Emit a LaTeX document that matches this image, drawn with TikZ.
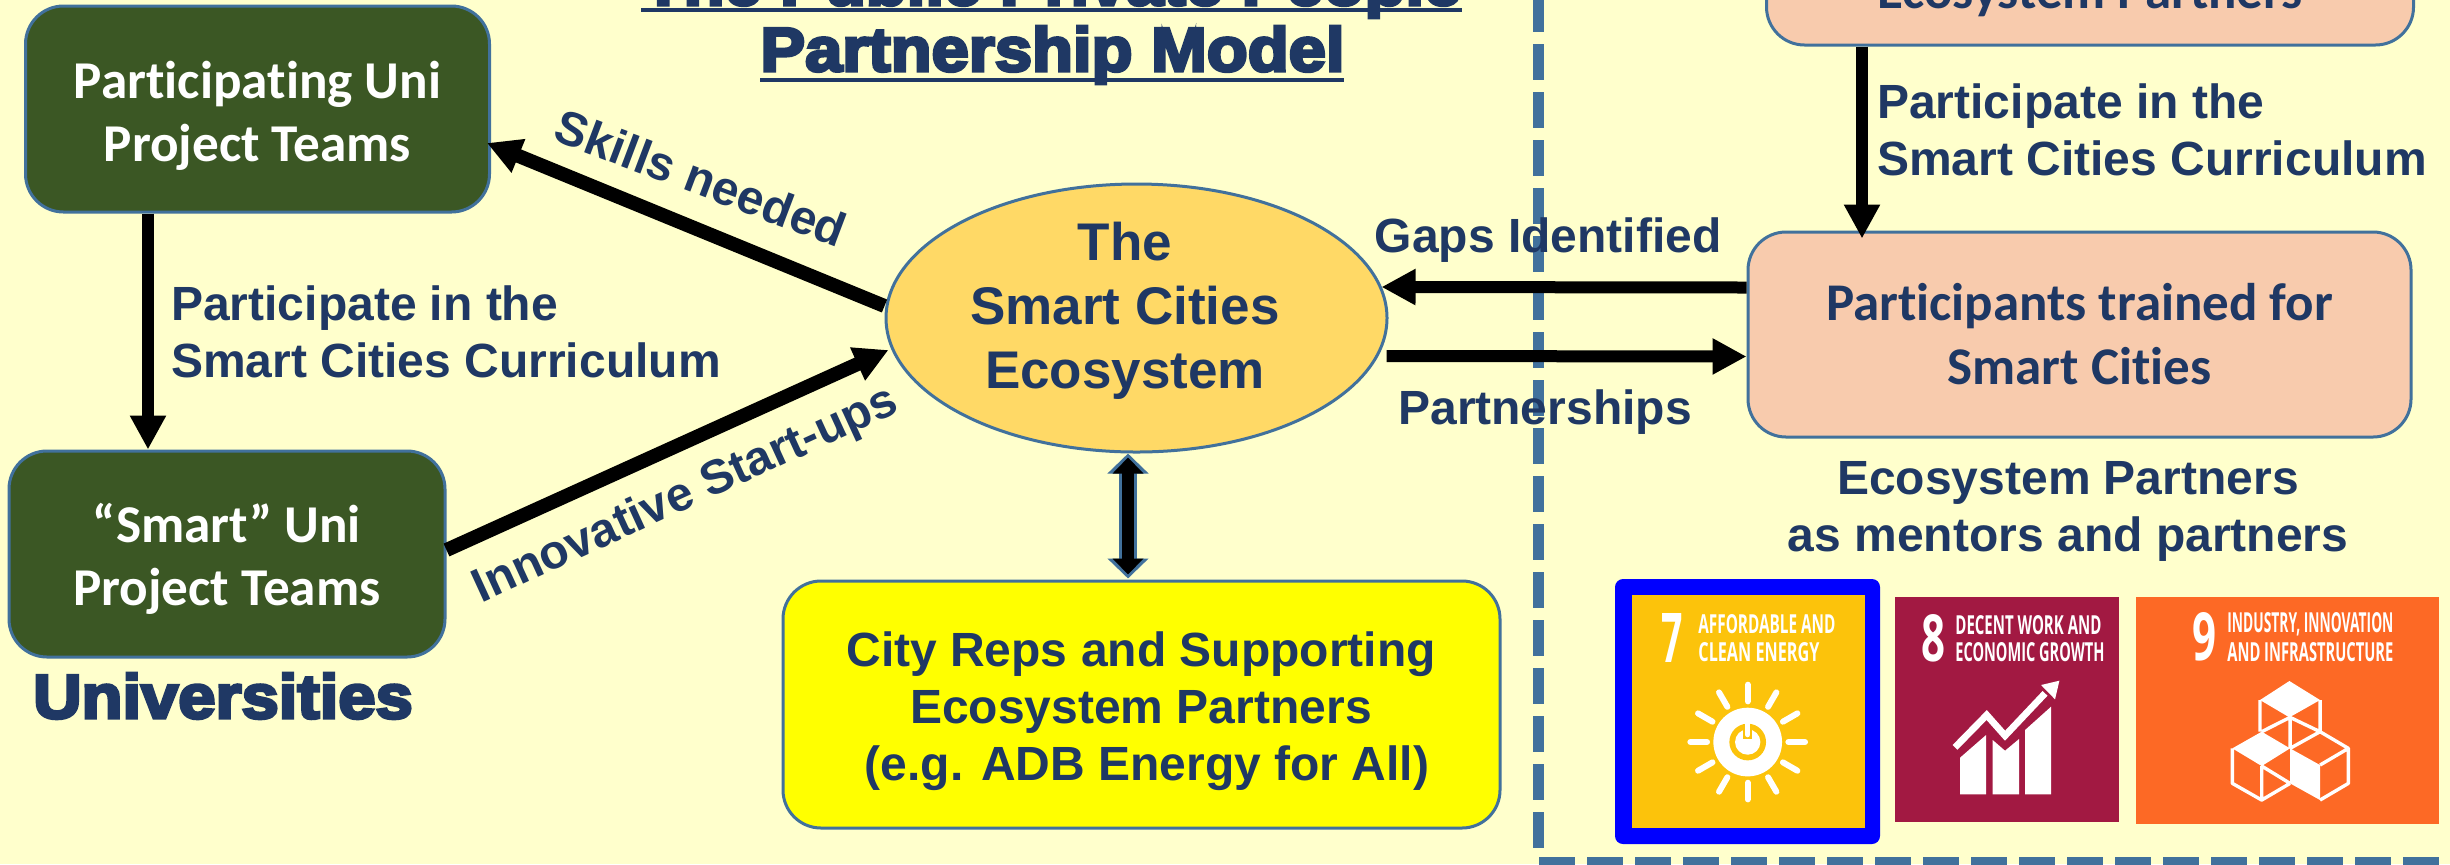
\documentclass[tikz,border=0pt]{standalone}
\usepackage{fontspec}
\usepackage{graphicx}
\usetikzlibrary{calc,arrows.meta,shapes.geometric}
\setmainfont{Liberation Sans}
\newfontfamily\carl[Ligatures=NoCommon]{Carlito}
\newfontfamily\heavy[FakeBold=5,FakeStretch=1.08]{Liberation Sans Bold}
\newfontfamily\tile{Open Sans}
\definecolor{bgc}{HTML}{FFFFCC}
\definecolor{navy}{HTML}{1F3864}
\definecolor{edgec}{HTML}{41719C}
\definecolor{greenc}{HTML}{3B5724}
\definecolor{peachc}{HTML}{F8CBAD}
\definecolor{ellc}{HTML}{FFD966}
\definecolor{yelc}{HTML}{FFFF00}
\definecolor{bluec}{HTML}{0000FF}
\definecolor{sdga}{HTML}{FCC30B}
\definecolor{sdgb}{HTML}{A21942}
\definecolor{sdgc}{HTML}{FD6925}
\tikzset{
  boxbase/.style={draw=edgec,line width=1.5pt,rounded corners=19pt,inner sep=0pt,align=center},
  greenbox/.style={boxbase,fill=greenc,text=white,font=\carl\bfseries\fontsize{26.6}{31.5}\selectfont},
  peachbox/.style={boxbase,fill=peachc,text=navy,font=\carl\bfseries\fontsize{26.5}{32}\selectfont},
  lab/.style={inner sep=0pt,text=navy,align=center,font=\bfseries\fontsize{24}{28.5}\selectfont},
  labl/.style={lab,align=left},
  arr/.style={line width=6pt,black,-{Triangle[length=17pt,width=17pt]}},
  divider/.style={line width=5.5pt,edgec,dash pattern=on 18pt off 6pt},
  ttl/.style={inner sep=0pt,text=navy,font=\heavy\fontsize{31}{31}\selectfont},
  rulec/.style={line width=1.7pt,navy},
  tiletext/.style={inner sep=0pt,anchor=west,text=white,font=\tile\bfseries},
  tilebox/.style={inner sep=0pt,draw=none},
}
\begin{document}
\begin{tikzpicture}[x=0.5pt,y=-0.5pt]
\useasboundingbox (0,0) rectangle (2450,864);
\clip (0,0) rectangle (2450,864);
\fill[bgc] (0,0) rectangle (2450,864);

% dividers
\coordinate (va) at (1538.5,-4);
\coordinate (vb) at (1538.5,848);
\coordinate (ha) at (1539,862.5);
\coordinate (hb) at (2460,862.5);
\draw[divider] (va) -- (vb);
\draw[divider] (ha) -- (hb);

% title
\node[ttl] (t1) at (1052,-11) {The Public Private People};
\node[ttl] (t2) at (1052.5,55) {Partnership Model};
\coordinate (u1a) at (641,10); \coordinate (u1b) at (1462,10);
\coordinate (u2a) at (760,80); \coordinate (u2b) at (1344,80);
\draw[rulec] (u1a) -- (u1b);
\draw[rulec] (u2a) -- (u2b);

% boxes
\node[greenbox,minimum width=232pt,minimum height=103pt] (uni) at (257.5,109) {\rule{0pt}{25pt}Participating Uni\\Project Teams};
\node[greenbox,minimum width=218pt,minimum height=103pt] (smart) at (227,554) {\rule{0pt}{24pt}“Smart” Uni\\Project Teams};
\node[ttl] (univ) at (223,696) {Universities};
\node[draw=edgec,line width=1.5pt,fill=ellc,ellipse,inner sep=0pt,minimum width=250.5pt,minimum height=134pt] (eco) at (1136.5,318) {};
\node[lab,font=\bfseries\fontsize{26.5}{32}\selectfont] (ecot) at (1125,311) {The\\Smart Cities\\Ecosystem};
\node[boxbase,fill=yelc,minimum width=358.5pt,minimum height=123.5pt] (city) at (1141.5,704.5) {};
\node[lab] (cityt) at (1141,711.5) {City Reps and Supporting\\Ecosystem Partners\\\hspace*{6pt}(e.g. ADB Energy for All)};
\node[peachbox,minimum width=323.5pt,minimum height=120pt] (top) at (2090,-75) {};
\node[text=navy,inner sep=0pt,font=\carl\bfseries\fontsize{26.5}{32}\selectfont] (topt) at (2090,-5) {Ecosystem Partners};
\node[peachbox,minimum width=331.5pt,minimum height=102.5pt] (part) at (2079.5,334.5) {Participants trained for\\Smart Cities};

% connectors
\draw[arr,line width=7pt] ($(eco.west)+(0,-12)$) -- ($(uni.east)+(-4,34)$);
\draw[arr] ($(uni.south)+(-109.5,0)$) -- ($(smart.north)+(-79,0)$);
\draw[arr,line width=7pt] ($(smart.east)+(0,-4)$) -- ($(eco.west)+(4,32)$);
\draw[arr] ($(part.west)+(0,-47)$) -- ($(eco.east)+(-7,-31)$);
\draw[arr] ($(eco.east)+(-2,38)$) -- ($(part.west)+(0,22)$);
\draw[arr] ($(top.south)+(-228,0)$) -- ($(part.north)+(-217.5,8)$);
\coordinate (da) at ($(eco.south)+(-8.5,0)$);
\coordinate (db) at ($(city.north)+(-13.5,-1)$);
\draw[edgec,line width=9pt,{Triangle[length=10pt,width=20pt]}-{Triangle[length=10pt,width=20pt]}] (da) -- (db);
\draw[black,line width=6pt,shorten <=2pt,shorten >=2pt,{Triangle[length=8pt,width=15pt]}-{Triangle[length=8pt,width=15pt]}] (da) -- (db);

% labels
\node[lab,rotate=-20.7] (skills) at (701,178) {Skills needed};
\node[lab,rotate=24.6] (innov) at (686,496) {Innovative Start-ups};
\node[labl] (pl) at (446,332) {Participate in the\\Smart Cities Curriculum};
\node[labl] (pr) at (2152,130) {Participate in the\\Smart Cities Curriculum};
\node[lab] (gaps) at (1548,240) {Gaps Identified};
\node[lab] (pships) at (1545,412) {Partnerships};
\node[lab] (ment) at (2068,511) {Ecosystem Partners\\as mentors and partners};

% SDG tiles
\node[tilebox,fill=bluec,rounded corners=4pt,minimum width=132.5pt,minimum height=132.5pt] (s0) at (1747.5,711.5) {};
\node[tilebox,fill=sdga,minimum width=116.75pt,minimum height=116.5pt] (s7) at (1748.25,711.5) {};
\node[tilebox,fill=sdgb,minimum width=112pt,minimum height=112.5pt] (s8) at (2007,709.5) {};
\node[tilebox,fill=sdgc,minimum width=151.5pt,minimum height=113.5pt] (s9) at (2287.5,710.5) {};

\node[tiletext] (n7) at (1660.6,637.5) {\resizebox{10.7pt}{24.5pt}{7}};
\node[tiletext] (a7) at (1698,624.5) {\resizebox{68.5pt}{9.5pt}{AFFORDABLE AND}};
\node[tiletext] (b7) at (1698,652.5) {\resizebox{60.5pt}{9.5pt}{CLEAN ENERGY}};
\node[tiletext] (n8) at (1921,638.5) {\resizebox{12pt}{23.5pt}{8}};
\node[tiletext] (a8) at (1955,625) {\resizebox{73pt}{9.5pt}{DECENT WORK AND}};
\node[tiletext] (b8) at (1955,652) {\resizebox{74.5pt}{9.5pt}{ECONOMIC GROWTH}};
\node[tiletext] (n9) at (2192,637) {\resizebox{12pt}{24pt}{9}};
\node[tiletext] (a9) at (2227,624) {\resizebox{83pt}{10pt}{INDUSTRY, INNOVATION}};
\node[tiletext] (b9) at (2227,652) {\resizebox{83pt}{9.5pt}{AND INFRASTRUCTURE}};

% icon 7
\begin{scope}[shift={(1650,640)},x=0.1667pt,y=-0.1667pt]
  \foreach \a in {0,30,...,330}
    \draw[white,line width=3pt,line cap=round] ($(293,306)+(\a:122)$) -- ($(293,306)+(\a:172)$);
  \fill[white] (293,306) circle[radius=103];
  \fill[sdga] (293,306) circle[radius=55];
  \fill[white] (293,306) circle[radius=38];
  \draw[sdga,line width=4.4pt] (293,252) -- (293,296);
  \draw[white,line width=2.6pt,line cap=round] (293,242) -- (293,284);
\end{scope}

% icon 8
\begin{scope}[shift={(1930,660)},x=0.1667pt,y=-0.1667pt]
  \fill[white] (90,403) -- (90,293) -- (168,225) -- (168,403) -- cycle;
  \fill[white] (188,403) -- (188,240) -- (225,272) -- (267,237) -- (267,403) -- cycle;
  \fill[white] (285,403) -- (285,210) -- (363,140) -- (363,403) -- cycle;
  \draw[sdgb,line width=5.6pt] (60,268) -- (170,165) -- (225,227) -- (345,100);
  \draw[white,line width=3.4pt] (75,262) -- (170,165) -- (225,227) -- (345,100);
  \fill[white] (388,62) -- (333,75) -- (375,118) -- cycle;
\end{scope}

% icon 9
\begin{scope}[shift={(2200,660)},x=0.1667pt,y=-0.1667pt]
  \fill[white] (268,63) -- (360,120) -- (268,172) -- (180,120) -- cycle;
  \fill[white] (185,215) -- (270,265) -- (185,318) -- (97,265) -- cycle;
  \fill[white] (270,265) -- (360,315) -- (360,420) -- (270,370) -- cycle;
  \draw[white,line width=1.7pt,line join=round]
    (180,120) -- (180,215) (360,120) -- (360,215) (270,172) -- (270,265)
    (185,215) -- (270,172) -- (360,215)
    (360,215) -- (445,265) -- (360,315) (270,265) -- (360,215)
    (445,265) -- (445,370) -- (360,420)
    (97,265) -- (97,370) -- (185,420) -- (270,370)
    (185,318) -- (185,420) (185,318) -- (270,370);
\end{scope}
\end{tikzpicture}
\end{document}
